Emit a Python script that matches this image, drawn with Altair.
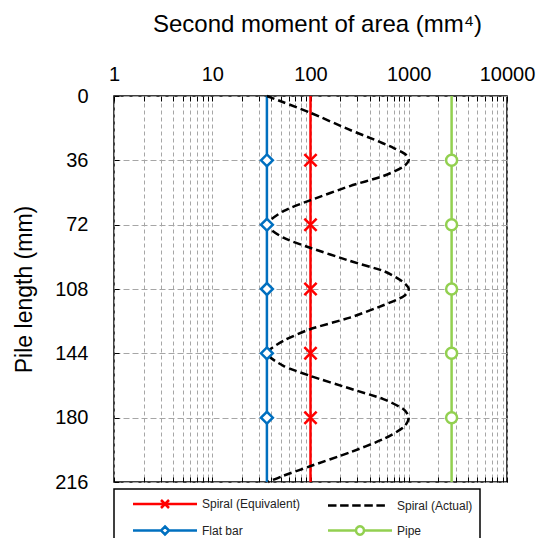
import altair as alt
import pandas as pd

FONT = "Liberation Sans"

# Stations along the pile (mm); markers sit on the inner stations
pile_length = [0, 36, 72, 108, 144, 180, 216]
marker_length = [36, 72, 108, 144, 180]

# Constant second moments of area (mm^4)
equivalent_I = 100
flat_bar_I = 36
pipe_I = 2730

# Spiral (Actual): second moment of area along the pile
actual_length = [0, 3.5, 9.4, 18.7, 24.3, 29.0, 32.7, 36.0, 39.6, 44.8, 50.4, 58.4, 64.4,
                 72.0, 79.3, 84.9, 92.3, 97.9, 103.5, 108.0, 112.2, 117.1, 124.0, 130.5, 137.0,
                 144.0, 151.0, 156.6, 163.7, 169.6, 175.2, 180.0, 185.5, 192.0, 199.4, 207.2, 212.5, 216.0]
actual_I = [36, 53, 100, 245, 440, 697, 930, 1000, 880, 551, 252, 99, 53,
            36, 53, 99, 252, 551, 848, 1000, 880, 551, 252, 99, 53,
            36, 53, 99, 252, 551, 880, 1000, 880, 551, 252, 99, 53, 37]

series_names = ["Spiral (Equivalent)", "Spiral (Actual)", "Flat bar", "Pipe"]
series_colors = ["#FF0000", "#000000", "#0070C0", "#92D050"]
RED, BLACK, BLUE, GREEN = series_colors

x_major = [1, 10, 100, 1000, 10000]
x_ticks = [m * d for d in [1, 10, 100, 1000] for m in range(1, 10)] + [10000]

constants = [("Spiral (Equivalent)", equivalent_I), ("Flat bar", flat_bar_I), ("Pipe", pipe_I)]
const_df = pd.DataFrame([{"series": s, "length": L, "I": v} for s, v in constants for L in pile_length])
marker_df = pd.DataFrame([{"series": s, "length": L, "I": v} for s, v in constants for L in marker_length])
actual_df = pd.DataFrame({"series": "Spiral (Actual)", "length": actual_length, "I": actual_I})
legend_df = pd.DataFrame({"series": series_names, "length": [0] * 4, "I": [100] * 4})

# Legend glyphs: a line segment carrying the series marker, drawn to the
# right of the symbol anchor (units of half the symbol box)
SYM_SIZE = 132.25
U = SYM_SIZE ** 0.5 / 2           # pixels per glyph unit
x0, x1 = 4.5 / U, 68.5 / U        # line extent
C = (x0 + x1) / 2                 # marker centre
M = 4.0 / U                       # marker half size


def seg(a, b):
    return f"M{a:.3f},0H{b:.3f}"


eq_glyph = seg(x0, x1) + f"M{C-M:.3f},{-M:.3f}L{C+M:.3f},{M:.3f}M{C+M:.3f},{-M:.3f}L{C-M:.3f},{M:.3f}"
dash, gap = 8.5 / U, 3.6 / U
dashes = "".join(seg(x0 + i * (dash + gap), x0 + i * (dash + gap) + dash) for i in range(5))
actual_glyph = dashes
flat_glyph = seg(x0, C - M) + seg(C + M, x1) + \
    f"M{C:.3f},{-M:.3f}L{C+M:.3f},0L{C:.3f},{M:.3f}L{C-M:.3f},0Z"
pipe_glyph = seg(x0, C - M) + seg(C + M, x1) + \
    f"M{C+M:.3f},0A{M:.3f},{M:.3f} 0 1,1 {C-M:.3f},0A{M:.3f},{M:.3f} 0 1,1 {C+M:.3f},0Z"
legend_glyphs = [eq_glyph, actual_glyph, flat_glyph, pipe_glyph]

x_scale = alt.Scale(type="log", domain=[1, 10000], nice=False)
y_scale = alt.Scale(domain=[0, 216], reverse=True, nice=False, zero=False)

top_axis = alt.Axis(
    orient="top", values=x_ticks, title="Second moment of area (mm⁴)",
    labelExpr="indexof(" + str(x_major) + ", datum.value) >= 0 ? format(datum.value, 'd') : ''",
    grid=True, gridDash=[4, 3], gridColor="#a6a6a6", gridWidth=1,
    domain=False, ticks=True, tickSize=5, tickColor="black", tickWidth=1, offset=-5,
    labelPadding=12, labelFontSize=20, labelFont=FONT, labelColor="black",
    labelFlush=False, labelOverlap=False,
    titleFont=FONT, titleFontSize=24, titleFontWeight="normal", titleColor="black",
    titlePadding=28, titleX=203,
)
bottom_axis = alt.Axis(
    orient="bottom", values=x_ticks, labels=False, grid=False, domain=False,
    ticks=True, tickSize=5, tickColor="black", tickWidth=1, offset=-5, title=None,
)
left_axis = alt.Axis(
    orient="left", values=pile_length, title="Pile length (mm)",
    grid=True, gridDash=[6, 3], gridColor="#a6a6a6", gridWidth=1,
    domain=False, ticks=True, tickSize=5, tickColor="black", tickWidth=1, offset=-5,
    labelPadding=26, labelFontSize=20, labelFont=FONT, labelColor="black", labelFlush=False,
    titleFont=FONT, titleFontSize=23, titleFontWeight="normal", titleColor="black", titlePadding=18,
)

x_plain = alt.X("I:Q", scale=x_scale, axis=None)
y_plain = alt.Y("length:Q", scale=y_scale)


def const_line(name, color, x_enc, y_enc):
    return alt.Chart(const_df).transform_filter(alt.datum.series == name).mark_line(
        strokeWidth=2.5, color=color
    ).encode(x=x_enc, y=y_enc, order=alt.Order("length:Q"))


def markers(name, shape, size, color, x_enc):
    return alt.Chart(marker_df).transform_filter(alt.datum.series == name).mark_point(
        shape=shape, size=size, filled=False, color=color, stroke=color,
        fill="white", fillOpacity=1, strokeWidth=2.5, opacity=1
    ).encode(x=x_enc, y=y_plain)


eq_line = const_line("Spiral (Equivalent)", RED,
                     alt.X("I:Q", scale=x_scale, axis=top_axis),
                     alt.Y("length:Q", scale=y_scale, axis=left_axis))
flat_line = const_line("Flat bar", BLUE, x_plain, y_plain)
pipe_line = const_line("Pipe", GREEN, x_plain, y_plain)

actual_line = alt.Chart(actual_df).mark_line(
    strokeWidth=2.5, strokeDash=[8, 4], color=BLACK, interpolate="cardinal", tension=0.3
).encode(x=x_plain, y=y_plain, order=alt.Order("length:Q"))

eq_marks = markers("Spiral (Equivalent)", "M-1,-1L1,1M1,-1L-1,1", 150, RED, x_plain)
flat_marks = markers("Flat bar", "diamond", 140, BLUE, x_plain)
pipe_marks = markers("Pipe", "circle", 121, GREEN, alt.X("I:Q", scale=x_scale, axis=bottom_axis))

legend_spec = alt.Legend(
    title=None, orient="none", legendX=0, legendY=393, columns=2, direction="horizontal",
    gridAlign="all", padding=7.5, strokeColor="black", columnPadding=16, rowPadding=7,
    symbolSize=SYM_SIZE, symbolStrokeWidth=2.5, symbolFillColor="white", symbolOpacity=1,
    labelFont=FONT, labelFontSize=12, labelColor="#222222", labelOffset=66.5, labelLimit=200,
)
legend_layer = alt.Chart(legend_df).mark_point(opacity=0, size=SYM_SIZE, filled=False).encode(
    x=x_plain, y=y_plain,
    color=alt.Color("series:N", scale=alt.Scale(domain=series_names, range=series_colors), legend=legend_spec),
    shape=alt.Shape("series:N", scale=alt.Scale(domain=series_names, range=legend_glyphs), legend=legend_spec),
)

chart = alt.layer(
    eq_line, flat_line, pipe_line, actual_line, eq_marks, flat_marks, pipe_marks, legend_layer
).resolve_axis(x="independent").properties(
    width=393, height=386,
    autosize=alt.AutoSizeParams(type="none"),
    padding={"left": 114, "top": 96, "right": 40, "bottom": 56},
    background="white",
).configure_view(stroke="black", strokeWidth=1.5).configure_legend(strokeWidth=1.5)

chart.save("out.html", embed_options={"renderer": "svg", "actions": False})
